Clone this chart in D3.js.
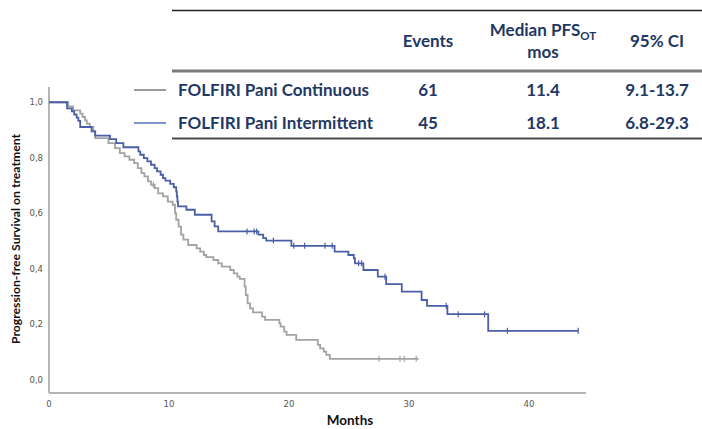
<!DOCTYPE html>
<html><head><meta charset="utf-8">
<script src="https://cdn.jsdelivr.net/npm/d3@7"></script>
<style>html,body{margin:0;padding:0;background:#fff;}svg{display:block;}</style>
</head><body><svg id="c" width="702" height="429"></svg>
<script>
// ---- data ----
const xTicks = [0, 10, 20, 30, 40];
const yTicks = [0, 0.2, 0.4, 0.6, 0.8, 1.0];
const seriesNames = ["FOLFIRI Pani Continuous", "FOLFIRI Pani Intermittent"];
const events = ["61", "45"];
const medians = ["11.4", "18.1"];
const cis = ["9.1-13.7", "6.8-29.3"];

const contTimes = [0,1.6,2.0,2.6,2.8,3.0,3.15,3.4,3.7,3.85,4.95,5.5,5.9,6.3,6.7,7.1,7.4,7.7,7.95,8.25,8.5,8.8,9.1,9.5,9.9,10.3,10.5,10.6,10.8,11.0,11.2,11.6,12.3,12.6,12.9,13.1,13.7,14.1,14.4,15.1,15.4,15.7,15.9,16.3,16.4,16.55,16.75,17.0,17.75,18.0,19.2,19.3,19.6,19.8,20.6,22.4,22.6,22.9,23.1,23.4];
const contSurv  = [1,0.985,0.971,0.959,0.947,0.935,0.923,0.911,0.895,0.871,0.853,0.835,0.817,0.805,0.793,0.781,0.763,0.745,0.733,0.715,0.703,0.691,0.672,0.661,0.642,0.631,0.600,0.577,0.552,0.523,0.505,0.486,0.474,0.462,0.450,0.442,0.432,0.420,0.408,0.396,0.384,0.372,0.364,0.336,0.306,0.276,0.258,0.243,0.228,0.216,0.204,0.192,0.174,0.162,0.144,0.126,0.114,0.102,0.090,0.076];
const contEnd = 30.8;
const contCensor = [8.7, 27.5, 29.25, 29.6, 30.6];

const intTimes = [0,1.5,1.9,2.1,2.3,2.45,2.6,3.55,3.85,5.08,5.6,6.2,7.45,7.6,7.9,8.2,8.5,8.8,9.0,9.3,9.5,9.7,10.1,10.4,10.6,10.65,10.7,10.75,11.45,12.15,13.55,13.8,14.1,17.45,17.85,18.1,20.2,23.8,24.95,25.4,25.5,26.2,27.4,28.1,29.4,31.05,31.5,33.2,36.6];
const intSurv  = [1,0.978,0.967,0.956,0.945,0.933,0.911,0.895,0.880,0.867,0.853,0.838,0.823,0.811,0.799,0.787,0.775,0.763,0.751,0.739,0.727,0.718,0.706,0.694,0.679,0.661,0.642,0.625,0.613,0.595,0.571,0.553,0.535,0.523,0.511,0.502,0.483,0.462,0.450,0.438,0.420,0.396,0.372,0.345,0.318,0.288,0.267,0.237,0.177];
const intEnd = 44.1;
const intCensor = [16.5,17.1,17.3,18.7,20.4,21.3,23.0,23.6,25.8,26.05,28.0,33.1,34.1,36.3,38.2,44.1];

// ---- layout ----
const svg = d3.select("#c");
const x = d3.scaleLinear().domain([0, 44.75]).range([49, 586]);
const y = d3.scaleLinear().domain([-0.047, 1.055]).range([393, 87]);
const grayC = "#a3a3a3", blueC = "#4a5fa8", navy = "#1f3864";
const fontT = "Lato, 'Open Sans', sans-serif";

// axes
svg.append("line").attr("x1", x(0)).attr("x2", x(0)).attr("y1", y(-0.047)).attr("y2", y(1.055))
  .attr("stroke", "#b4b4b4").attr("stroke-width", 2);
svg.append("line").attr("x1", x(0)).attr("x2", x(44.75)).attr("y1", y(-0.047)).attr("y2", y(-0.047))
  .attr("stroke", "#b4b4b4").attr("stroke-width", 2);
svg.selectAll(".yt").data(yTicks).join("text")
  .attr("x", 43).attr("y", d => y(d)).attr("dy", "0.35em").attr("text-anchor", "end")
  .attr("font-family", "'DejaVu Sans', sans-serif").attr("font-size", 8.5).attr("fill", "#555")
  .text(d => d3.format(".1f")(d).replace(".", ","));
svg.selectAll(".xt").data(xTicks).join("text")
  .attr("x", d => x(d)).attr("y", 407).attr("text-anchor", "middle")
  .attr("font-family", "'DejaVu Sans', sans-serif").attr("font-size", 8.5).attr("fill", "#555")
  .text(d => d);
svg.append("text").attr("transform", "translate(20,239) rotate(-90)").attr("text-anchor", "middle")
  .attr("font-family", fontT).attr("font-weight", "bold").attr("font-size", 12.2).attr("fill", "#111")
  .text("Progression-free Survival on treatment");
svg.append("text").attr("x", 350).attr("y", 425).attr("text-anchor", "middle")
  .attr("font-family", fontT).attr("font-weight", "bold").attr("font-size", 13.5).attr("fill", "#111")
  .text("Months");

// curves
function draw(times, surv, endT, censor, color) {
  const pts = times.map((t, i) => [t, surv[i]]);
  pts.push([endT, surv[surv.length - 1]]);
  const line = d3.line().x(d => x(d[0])).y(d => y(d[1])).curve(d3.curveStepAfter);
  svg.append("path").attr("d", line(pts)).attr("fill", "none").attr("stroke", color).attr("stroke-width", 1.8);
  const sAt = t => { let v = surv[0]; times.forEach((tt, i) => { if (tt <= t) v = surv[i]; }); return v; };
  svg.selectAll(null).data(censor).join("line")
    .attr("x1", d => x(d)).attr("x2", d => x(d))
    .attr("y1", d => y(sAt(d)) - 3).attr("y2", d => y(sAt(d)) + 3)
    .attr("stroke", color).attr("stroke-width", 1.2);
}
draw(contTimes, contSurv, contEnd, contCensor, grayC);
draw(intTimes, intSurv, intEnd, intCensor, blueC);

// table
svg.append("line").attr("x1", 172).attr("x2", 702).attr("y1", 10.5).attr("y2", 10.5).attr("stroke", "#222").attr("stroke-width", 1.5);
svg.append("line").attr("x1", 172).attr("x2", 702).attr("y1", 71).attr("y2", 71).attr("stroke", "#7a7a7a").attr("stroke-width", 3);
svg.append("line").attr("x1", 172).attr("x2", 702).attr("y1", 138.5).attr("y2", 138.5).attr("stroke", "#4a4a4a").attr("stroke-width", 2);

const colX = [428, 543, 657];
const fs = 17;
const hdr = svg.append("g").attr("font-family", fontT).attr("font-weight", "bold").attr("font-size", fs).attr("fill", navy).attr("text-anchor", "middle");
hdr.append("text").attr("x", colX[0]).attr("y", 47).text("Events");
const m = hdr.append("text").attr("x", colX[1]).attr("y", 36);
m.append("tspan").text("Median PFS");
m.append("tspan").attr("font-size", 11.5).attr("dy", 4).text("OT");
hdr.append("text").attr("x", colX[1]).attr("y", 58).text("mos");
hdr.append("text").attr("x", colX[2]).attr("y", 47).text("95% CI");

const rowY = [90, 123];
const legC = ["#9a9a9a", "#7f93c9"];
seriesNames.forEach((n, i) => {
  svg.append("line").attr("x1", 134).attr("x2", 166).attr("y1", rowY[i]).attr("y2", rowY[i]).attr("stroke", legC[i]).attr("stroke-width", 2);
  const g = svg.append("g").attr("font-family", fontT).attr("font-weight", "bold").attr("font-size", fs).attr("fill", navy);
  g.append("text").attr("x", 178).attr("y", rowY[i]).attr("dy", "0.35em").text(n);
  g.append("text").attr("x", colX[0]).attr("y", rowY[i]).attr("dy", "0.35em").attr("text-anchor", "middle").text(events[i]);
  g.append("text").attr("x", colX[1]).attr("y", rowY[i]).attr("dy", "0.35em").attr("text-anchor", "middle").text(medians[i]);
  g.append("text").attr("x", colX[2]).attr("y", rowY[i]).attr("dy", "0.35em").attr("text-anchor", "middle").text(cis[i]);
});
</script></body></html>
